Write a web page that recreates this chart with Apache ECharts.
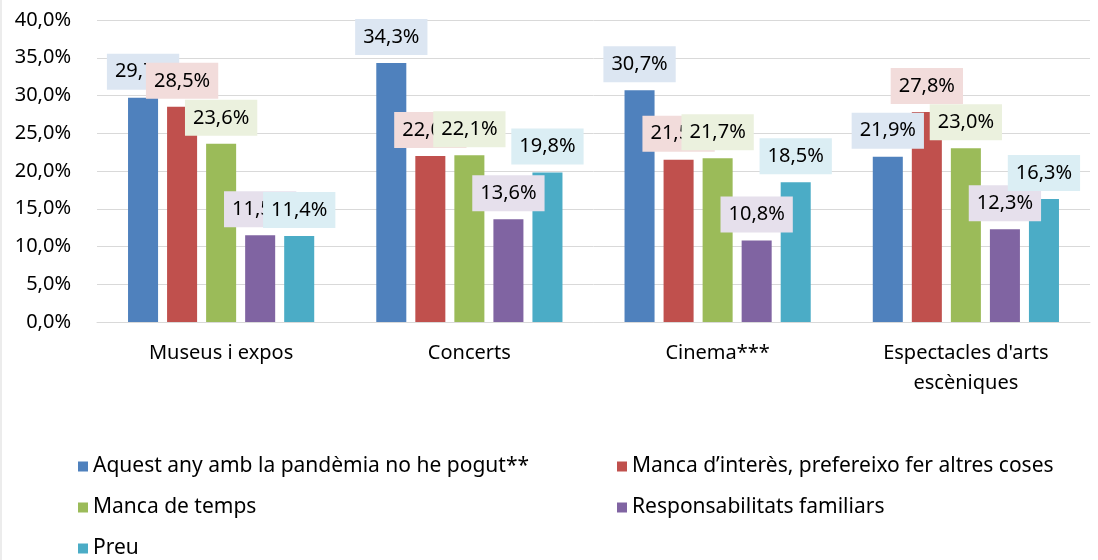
<!DOCTYPE html>
<html>
<head>
<meta charset="utf-8">
<script src="https://cdn.jsdelivr.net/npm/echarts@6/dist/echarts.min.js"></script>
<style>
html, body { margin:0; padding:0; background:#fff; }
#chart { width:1098px; height:560px; }
</style>
</head>
<body>
<div id="chart"></div>
<script>
// categories and series
var categories = ['Museus i expos', 'Concerts', 'Cinema***', "Espectacles d'arts\nescèniques"];
var seriesNames = ['Aquest any amb la pandèmia no he pogut**', 'Manca d\u2019interès, prefereixo fer altres coses', 'Manca de temps', 'Responsabilitats familiars', 'Preu'];
var pandemia = [29.7, 34.3, 30.7, 21.9];
var interes = [28.5, 22.0, 21.5, 27.8];
var temps = [23.6, 22.1, 21.7, 23.0];
var familiars = [11.5, 13.6, 10.8, 12.3];
var preu = [11.4, 19.8, 18.5, 16.3];
var values = [pandemia, interes, temps, familiars, preu];

var colors = ['#4f81bd', '#c0504d', '#9bbb59', '#8064a2', '#4bacc6'];
var labelBg = ['#dce6f2', '#f2dcdb', '#ebf1de', '#e6e0ec', '#dbeef4'];
var fontFam = 'Noto Sans';

function fmt(v) {
	return v.toFixed(1).replace('.', ',') + '%';
}

var myChart = echarts.init(document.getElementById('chart'));
var series = [];
for (var i = 0; i < values.length; i++) {
	series.push({
		name: seriesNames[i],
		type: 'bar',
		data: values[i],
		barGap: '30%',
		barCategoryGap: '25%',
		itemStyle: { color: colors[i] },
		label: {
			show: true,
			position: 'top',
			distance: 8,
			color: '#000',
			fontFamily: fontFam,
			fontSize: 20,
			backgroundColor: labelBg[i],
			padding: [8, 8, 8, 8],
			formatter: function(p) { return fmt(p.value); }
		}
	});
}

var option = {
	animation: false,
	grid: { left: 97, right: 8, top: 20, bottom: 238 },
	xAxis: {
		type: 'category',
		data: categories,
		axisLine: { lineStyle: { color: '#d9d9d9', width: 1 } },
		axisTick: { show: false },
		axisLabel: { color: '#000', fontFamily: fontFam, fontSize: 20, margin: 16, lineHeight: 30 }
	},
	yAxis: {
		type: 'value',
		min: 0,
		max: 40,
		interval: 5,
		axisLine: { show: false },
		axisTick: { show: false },
		splitLine: { lineStyle: { color: '#d9d9d9', width: 1 } },
		axisLabel: { color: '#000', fontFamily: fontFam, fontSize: 20, margin: 26, formatter: function(v) { return fmt(v); } }
	},
	legend: [{
		orient: 'vertical',
		left: 73,
		top: 451,
		height: 130,
		itemWidth: 10,
		itemHeight: 10,
		itemGap: 20,
		icon: 'rect',
		data: [seriesNames[0], seriesNames[2], seriesNames[4]],
		textStyle: { color: '#000', fontFamily: fontFam, fontSize: 21 }
	}, {
		orient: 'vertical',
		left: 612,
		top: 451,
		height: 130,
		itemWidth: 10,
		itemHeight: 10,
		itemGap: 20,
		icon: 'rect',
		data: [seriesNames[1], seriesNames[3]],
		textStyle: { color: '#000', fontFamily: fontFam, fontSize: 21 }
	}],
	graphic: [{
		type: 'line',
		shape: { x1: 1, y1: 0, x2: 1, y2: 560 },
		style: { stroke: '#d9d9d9', lineWidth: 1 }
	}],
	series: series
};
myChart.setOption(option);
</script>
</body>
</html>
